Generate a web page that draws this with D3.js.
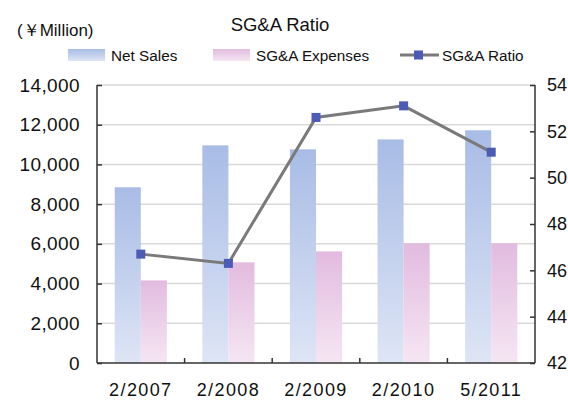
<!DOCTYPE html>
<html>
<head>
<meta charset="utf-8">
<script src="https://cdn.jsdelivr.net/npm/d3@7"></script>
<style>
  html, body { margin: 0; padding: 0; background: #fff; overflow: hidden; }
  svg { display: block; font-family: 'Liberation Sans', Arial, sans-serif; }
</style>
</head>
<body>
<div id="chart"></div>
<script>
const categories = ['2/2007', '2/2008', '2/2009', '2/2010', '5/2011']
const netSales = [8850, 10960, 10760, 11260, 11720]
const sgaExpenses = [4160, 5070, 5620, 6030, 6030]
const sgaRatio = [46.7, 46.3, 52.6, 53.1, 51.1]
const leftTicks = [0, 2000, 4000, 6000, 8000, 10000, 12000, 14000]
const rightTicks = [42, 44, 46, 48, 50, 52, 54]
const seriesNames = ['Net Sales', 'SG&A Expenses', 'SG&A Ratio']

const width = 568
const height = 400
const margin = { top: 85, right: 33, bottom: 37, left: 97 }
const plotW = width - margin.left - margin.right
const plotH = height - margin.top - margin.bottom

const svg = d3.select('#chart').append('svg')
  .attr('width', width)
  .attr('height', height)

// gradients for the bars
const defs = svg.append('defs')
const gradients = [
  { id: 'gradSales', top: '#a8bce6', bottom: '#dee5f5' },
  { id: 'gradSga', top: '#e2bbdf', bottom: '#f5e6f3' }
]
gradients.forEach(g => {
  const lg = defs.append('linearGradient')
    .attr('id', g.id)
    .attr('x1', 0).attr('y1', 0).attr('x2', 0).attr('y2', 1)
  lg.append('stop').attr('offset', '0%').attr('stop-color', g.top)
  lg.append('stop').attr('offset', '100%').attr('stop-color', g.bottom)
})

const x = d3.scaleBand()
  .domain(categories)
  .range([0, plotW])
  .padding(0)

const xInner = d3.scaleBand()
  .domain(['sales', 'sga'])
  .range([0, x.bandwidth()])
  .paddingInner(0)
  .paddingOuter(0.68)

const yLeft = d3.scaleLinear().domain([0, 14000]).range([plotH, 0])
const yRight = d3.scaleLinear().domain([42, 54]).range([plotH, 0])

const plot = svg.append('g')
  .attr('transform', `translate(${margin.left},${margin.top})`)

// grid lines
plot.append('g')
  .selectAll('line')
  .data(leftTicks.filter(d => d > 0))
  .enter()
  .append('line')
  .attr('x1', 0)
  .attr('x2', plotW)
  .attr('y1', d => yLeft(d))
  .attr('y2', d => yLeft(d))
  .attr('stroke', '#d9d9d9')
  .attr('stroke-width', 1.5)

// bars
const groups = plot.append('g')
  .selectAll('g')
  .data(categories)
  .enter()
  .append('g')
  .attr('transform', d => `translate(${x(d)},0)`)

groups.append('rect')
  .attr('x', xInner('sales'))
  .attr('width', xInner.bandwidth())
  .attr('y', (d, i) => yLeft(netSales[i]))
  .attr('height', (d, i) => plotH - yLeft(netSales[i]))
  .attr('fill', 'url(#gradSales)')

groups.append('rect')
  .attr('x', xInner('sga'))
  .attr('width', xInner.bandwidth())
  .attr('y', (d, i) => yLeft(sgaExpenses[i]))
  .attr('height', (d, i) => plotH - yLeft(sgaExpenses[i]))
  .attr('fill', 'url(#gradSga)')

// axes
const axisColor = '#333'
const leftAxis = plot.append('g')
  .call(d3.axisLeft(yLeft).tickValues(leftTicks).tickSize(-5).tickPadding(17)
    .tickFormat(d3.format(',')))
const rightAxis = plot.append('g')
  .attr('transform', `translate(${plotW},0)`)
  .call(d3.axisRight(yRight).tickValues(rightTicks).tickSize(-5).tickPadding(12))
const bottomAxis = plot.append('g')
  .attr('transform', `translate(0,${plotH})`)
  .call(d3.axisBottom(x).tickSize(0).tickPadding(20))

;[leftAxis, rightAxis, bottomAxis].forEach(a => {
  a.select('.domain').attr('stroke', axisColor).attr('stroke-width', 1.5)
  a.selectAll('.tick line').attr('stroke', axisColor).attr('stroke-width', 1.5)
  a.selectAll('text').attr('fill', '#111').style('font-size', '19px').style('letter-spacing', '0.4px')
})
rightAxis.selectAll('text').style('font-size', '18px').style('letter-spacing', '0px')
bottomAxis.select('.domain').attr('d', `M0,0H${plotW}`)
bottomAxis.selectAll('text').style('font-size', '18px').style('letter-spacing', '1.4px')
leftAxis.select('.domain').attr('d', `M0,${plotH}V0`)
rightAxis.select('.domain').attr('d', `M0,${plotH}V0`)

// category separators on the x axis
plot.append('g')
  .selectAll('line')
  .data(categories.slice(1))
  .enter()
  .append('line')
  .attr('x1', d => x(d))
  .attr('x2', d => x(d))
  .attr('y1', plotH)
  .attr('y2', plotH - 5)
  .attr('stroke', axisColor)
  .attr('stroke-width', 1.5)

// ratio line
const lineColor = '#7a7a7a'
const markerColor = '#4b5bb6'
const line = d3.line()
  .x((d, i) => x(categories[i]) + x.bandwidth() / 2)
  .y(d => yRight(d))

plot.append('path')
  .datum(sgaRatio)
  .attr('d', line)
  .attr('fill', 'none')
  .attr('stroke', lineColor)
  .attr('stroke-width', 3)

plot.append('g')
  .selectAll('rect')
  .data(sgaRatio)
  .enter()
  .append('rect')
  .attr('x', (d, i) => x(categories[i]) + x.bandwidth() / 2 - 4.5)
  .attr('y', d => yRight(d) - 4.5)
  .attr('width', 9)
  .attr('height', 9)
  .attr('fill', markerColor)

// title and unit
svg.append('text')
  .attr('x', 280)
  .attr('y', 31)
  .attr('text-anchor', 'middle')
  .style('font-size', '18.5px')
  .attr('fill', '#111')
  .text('SG&A Ratio')

svg.append('text')
  .attr('x', 17)
  .attr('y', 36)
  .style('font-size', '17px')
  .attr('fill', '#111')
  .text('(￥Million)')

// legend
const legend = svg.append('g').attr('transform', 'translate(0,55)')
const legendItems = [
  { name: seriesNames[0], x: 68, fill: 'url(#gradSales)' },
  { name: seriesNames[1], x: 213, fill: 'url(#gradSga)' }
]
legendItems.forEach(item => {
  legend.append('rect')
    .attr('x', item.x)
    .attr('y', -6)
    .attr('width', 37)
    .attr('height', 12)
    .attr('fill', item.fill)
  legend.append('text')
    .attr('x', item.x + 43)
    .attr('y', 5.7)
    .style('font-size', '15.3px')
    .attr('fill', '#111')
    .text(item.name)
})
legend.append('line')
  .attr('x1', 400).attr('x2', 439)
  .attr('y1', 0).attr('y2', 0)
  .attr('stroke', lineColor)
  .attr('stroke-width', 3)
legend.append('rect')
  .attr('x', 414).attr('y', -4.5)
  .attr('width', 9).attr('height', 9)
  .attr('fill', markerColor)
legend.append('text')
  .attr('x', 442)
  .attr('y', 5.7)
  .style('font-size', '15.3px')
  .attr('fill', '#111')
  .text(seriesNames[2])
</script>
</body>
</html>
